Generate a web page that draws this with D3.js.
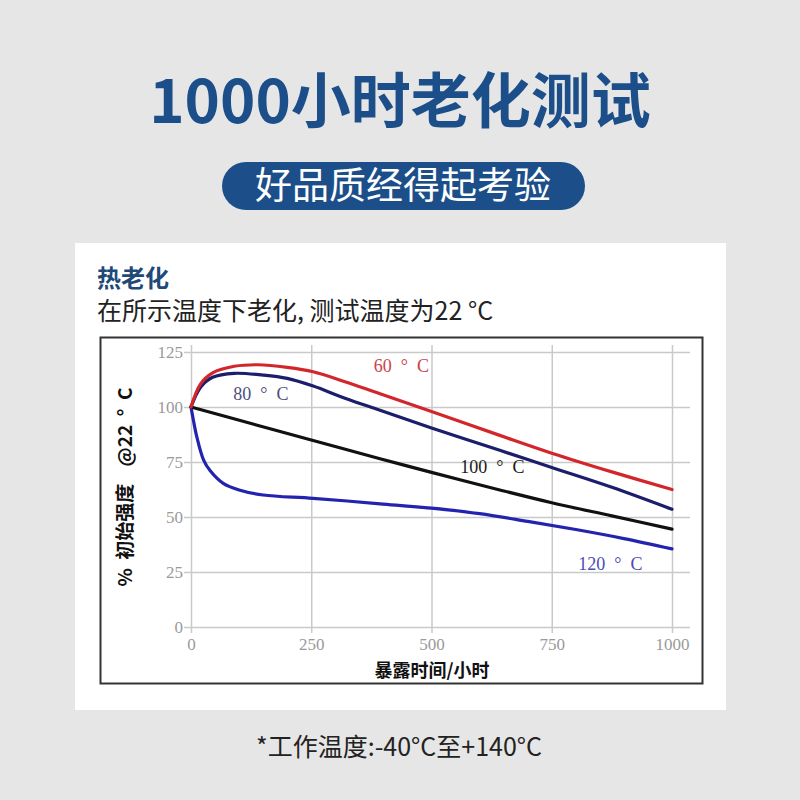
<!DOCTYPE html>
<html>
<head>
<meta charset="utf-8">
<script src="https://cdn.jsdelivr.net/npm/d3@7"></script>
<style>
  html, body { margin: 0; padding: 0; background: #e6e6e6; }
  svg { display: block; }
</style>
</head>
<body>
<div id="chart"></div>
<script>
// ── Data ──────────────────────────────────────────────────
const xTicks = [0, 250, 500, 750, 1000];
const yTicks = [0, 25, 50, 75, 100, 125];

const hours60 = [0, 20, 45, 90, 140, 200, 254, 320, 393, 500, 642, 750, 875, 1000];
const pct60   = [100, 110.5, 115.5, 118.5, 119.2, 118, 116, 111.5, 106, 98, 87.1, 79, 70.5, 62.5];

const hours80 = [0, 20, 45, 90, 150, 200, 254, 320, 393, 500, 642, 750, 875, 1000];
const pct80   = [100, 109, 113.5, 115.3, 114.5, 113, 109.5, 104, 98.5, 90.5, 80.3, 72.5, 63.5, 53.5];

const hours100 = [0, 125, 250, 393, 500, 642, 750, 875, 1000];
const pct100   = [100, 92.5, 85, 76.5, 70.3, 62.3, 56.5, 50.5, 44.5];

const hours120 = [0, 5, 12, 26, 40, 67, 100, 150, 254, 393, 500, 600, 700, 800, 900, 1000];
const pct120   = [100, 94, 86.5, 76, 71, 65.3, 62.3, 60, 58.5, 56, 54, 51.5, 48, 44.3, 40.2, 35.5];

const seriesNames = ['60 ° C', '80 ° C', '100 ° C', '120 ° C'];
// label anchors in data units (hours, %)
const labelHours = [380, 88, 560, 805];
const labelPct   = [116, 103, 70, 26];

// ── Styling ───────────────────────────────────────────────
const lineColors  = ['#d3262b', '#1c1d6b', '#111111', '#2323b0'];
const labelColors = ['#c9424d', '#4e5080', '#1a1a1a', '#4a4cb8'];
const brandBlue = '#1c4f8a';
const serif = '"Liberation Serif", "DejaVu Serif", serif';
const cjk = '"Noto Sans CJK SC", "Noto Sans", sans-serif';

const W = 800, H = 800;
const svg = d3.select('#chart').append('svg')
    .attr('width', W)
    .attr('height', H);

svg.append('rect').attr('width', W).attr('height', H).attr('fill', '#e6e6e6');

// Header
svg.append('text')
    .attr('x', 400).attr('y', 123)
    .attr('text-anchor', 'middle')
    .style('font-family', cjk)
    .style('font-weight', 700)
    .style('font-size', '60px')
    .attr('fill', brandBlue)
    .text('1000小时老化测试');

svg.append('rect')
    .attr('x', 222).attr('y', 162)
    .attr('width', 363).attr('height', 48)
    .attr('rx', 24)
    .attr('fill', brandBlue);

svg.append('text')
    .attr('x', 403).attr('y', 199)
    .attr('text-anchor', 'middle')
    .style('font-family', cjk)
    .style('font-size', '37px')
    .attr('fill', '#ffffff')
    .text('好品质经得起考验');

// White panel
svg.append('rect')
    .attr('x', 75).attr('y', 243)
    .attr('width', 651).attr('height', 467)
    .attr('fill', '#ffffff');

svg.append('text')
    .attr('x', 97).attr('y', 287)
    .style('font-family', cjk)
    .style('font-weight', 700)
    .style('font-size', '24px')
    .attr('fill', '#1f4a78')
    .text('热老化');

svg.append('text')
    .attr('x', 97).attr('y', 320)
    .style('font-family', cjk)
    .style('font-size', '25px')
    .attr('fill', '#222')
    .text('在所示温度下老化, 测试温度为22 °C');

// Chart frame
svg.append('rect')
    .attr('x', 100.5).attr('y', 337.5)
    .attr('width', 602).attr('height', 346)
    .attr('fill', '#ffffff')
    .attr('stroke', '#333')
    .attr('stroke-width', 2);

// ── Scales ────────────────────────────────────────────────
const x = d3.scaleLinear().domain([0, 1000]).range([191, 672]);
const y = d3.scaleLinear().domain([0, 125]).range([627, 352]);

const gridColor = '#c9c9c9';
const tickColor = '#9a9a9a';

// Horizontal grid + y ticks
const yAxis = svg.append('g')
    .attr('transform', `translate(${x(0)},0)`)
    .call(d3.axisLeft(y).tickValues(yTicks).tickSizeOuter(0));
yAxis.select('.domain').remove();
yAxis.selectAll('.tick line')
    .attr('x1', -7).attr('x2', 690 - x(0))
    .attr('stroke', gridColor).attr('stroke-width', 1.5);
yAxis.selectAll('.tick text')
    .attr('x', -8)
    .style('font-family', serif)
    .style('font-size', '17px')
    .attr('fill', tickColor);

// Vertical grid + x ticks
const xAxis = svg.append('g')
    .attr('transform', `translate(0,${y(0)})`)
    .call(d3.axisBottom(x).tickValues(xTicks).tickFormat(d3.format('d')).tickSizeOuter(0));
xAxis.select('.domain').remove();
xAxis.selectAll('.tick line')
    .attr('y1', 6).attr('y2', 345 - y(0))
    .attr('stroke', gridColor).attr('stroke-width', 1.5);
xAxis.selectAll('.tick text')
    .attr('y', 11)
    .style('font-family', serif)
    .style('font-size', '17px')
    .attr('fill', tickColor);

// Axis titles
svg.append('text')
    .attr('x', 432).attr('y', 677)
    .attr('text-anchor', 'middle')
    .style('font-family', cjk)
    .style('font-weight', 700)
    .style('font-size', '18px')
    .attr('fill', '#111')
    .text('暴露时间/小时');

const yTitle = svg.append('text')
    .attr('transform', 'translate(132,487) rotate(-90)')
    .attr('text-anchor', 'middle')
    .style('font-family', cjk)
    .style('font-weight', 700)
    .style('font-size', '19px')
    .style('white-space', 'pre')
    .attr('fill', '#111');
yTitle.append('tspan').text('%  初始强度    ');
yTitle.append('tspan').text('@22  °  C');

// ── Curves ────────────────────────────────────────────────
const series = [
    { hours: hours60, pct: pct60 },
    { hours: hours80, pct: pct80 },
    { hours: hours100, pct: pct100 },
    { hours: hours120, pct: pct120 }
];

const line = d3.line()
    .x(d => x(d[0]))
    .y(d => y(d[1]))
    .curve(d3.curveCatmullRom.alpha(0.5));

// draw bottom-to-top so red sits on top, like the reference
[3, 2, 1, 0].forEach(i => {
    const pts = series[i].hours.map((h, k) => [h, series[i].pct[k]]);
    svg.append('path')
        .datum(pts)
        .attr('d', line)
        .attr('fill', 'none')
        .attr('stroke', lineColors[i])
        .attr('stroke-width', 3.2)
        .attr('stroke-linecap', 'round');
});

// Series labels
seriesNames.forEach((name, i) => {
    svg.append('text')
        .attr('x', x(labelHours[i]))
        .attr('y', y(labelPct[i]))
        .style('font-family', serif)
        .style('font-size', '18px')
        .style('white-space', 'pre')
        .attr('fill', labelColors[i])
        .text(name.replace(/ /g, '  '));
});

// Footnote
svg.append('text')
    .attr('x', 399).attr('y', 756)
    .attr('text-anchor', 'middle')
    .style('font-family', cjk)
    .style('font-size', '25px')
    .attr('fill', '#222')
    .text('*工作温度:-40°C至+140°C');
</script>
</body>
</html>
